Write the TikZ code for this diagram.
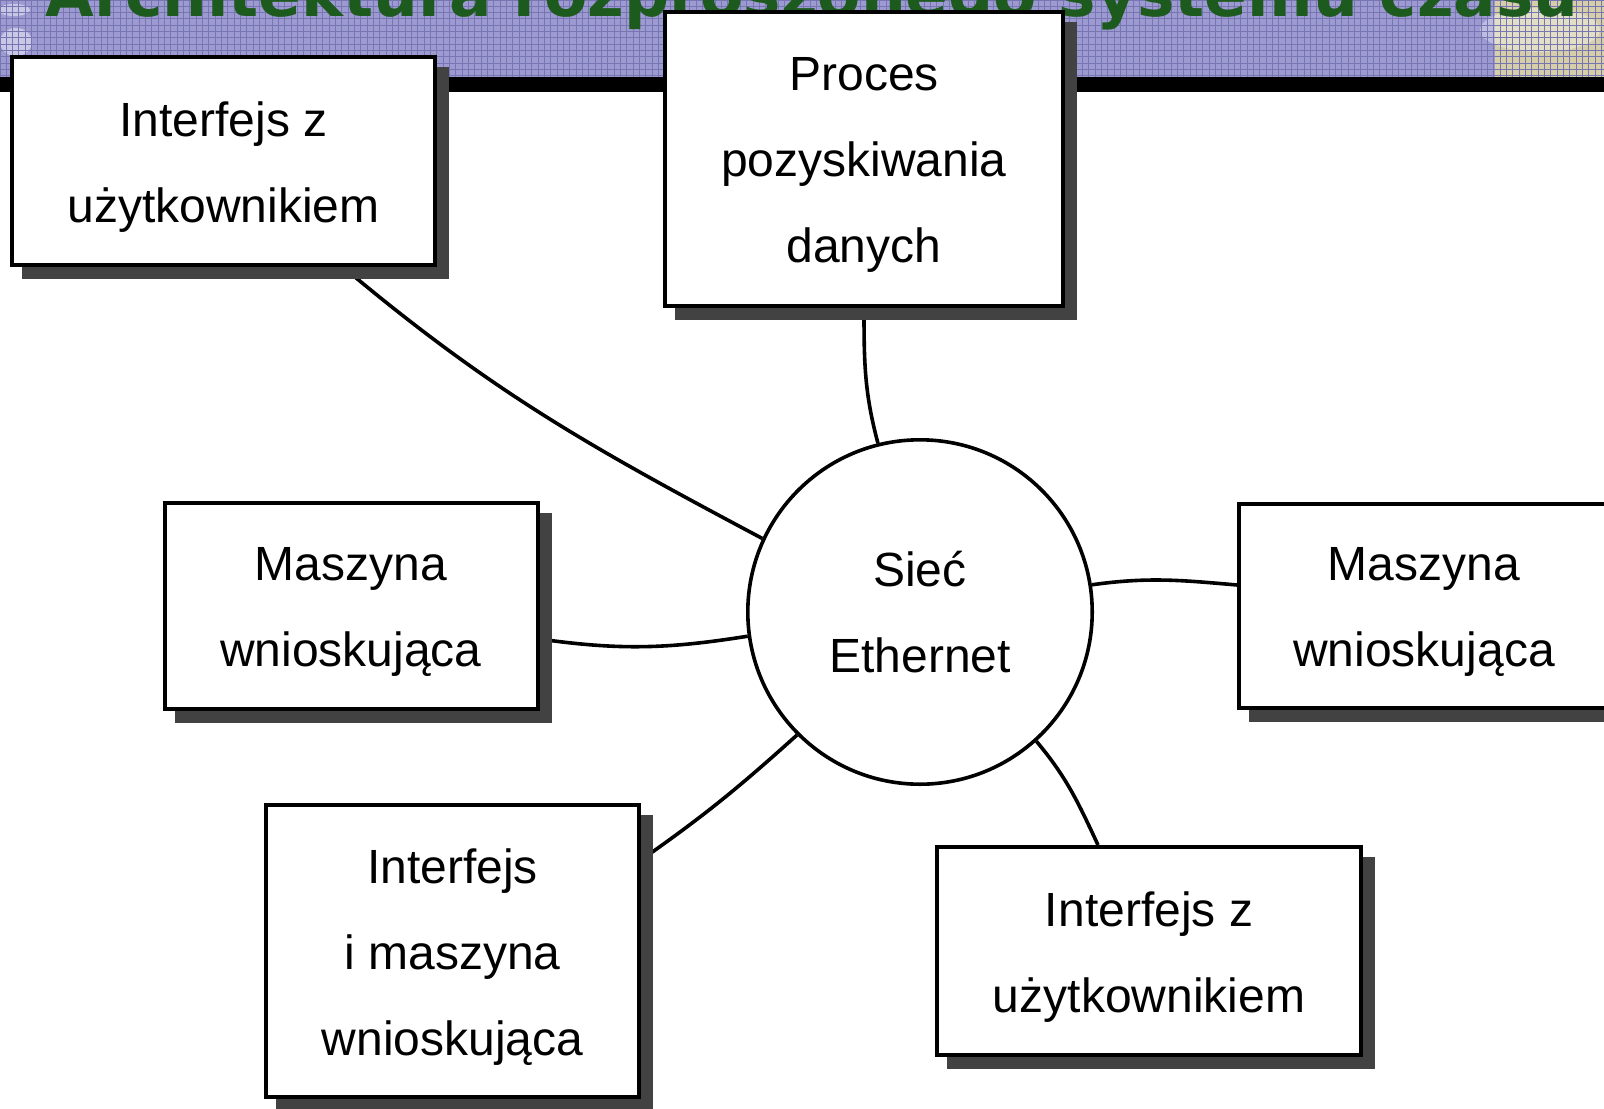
\documentclass[tikz,border=0pt]{standalone}
\usepackage{fontspec}
\usepackage{graphicx}
\setmainfont{Liberation Sans}
\newfontfamily\titlefont{DejaVu Sans}
\usetikzlibrary{backgrounds,calc}

\definecolor{bannerblue}{HTML}{9C9AD0}
\definecolor{gridline}{HTML}{7775B2}
\definecolor{cornerbeige}{HTML}{D5CEA9}
\definecolor{titlegreen}{HTML}{1D5A1D}
\definecolor{shadowgray}{HTML}{424242}

\tikzset{
  boxnode/.style={draw=black, line width=2pt, fill=white, inner sep=0pt,
    preaction={fill=shadowgray, draw=shadowgray, line width=2pt,
      transform canvas={xshift=6pt, yshift=-6pt}}},
  boxtext/.style={inner sep=0pt, align=center,
    font=\fontsize{24pt}{43pt}\selectfont},
  netnode/.style={circle, draw=black, line width=1.8pt, fill=white,
    inner sep=0pt, minimum size=172.2pt, align=center,
    font=\fontsize{24pt}{43pt}\selectfont},
  link/.style={draw=black, line width=1.8pt},
  gridrule/.style={draw=gridline, line width=0.5pt}
}

\begin{document}
\begin{tikzpicture}[x=0.5pt, y=-0.5pt]
  \useasboundingbox (0,0) rectangle (1604,1108);

  % boxes of the network
  \node[boxnode, minimum width=211.5pt, minimum height=104pt] (b1) at (223.5,161) {};
  \node[boxnode, minimum width=199pt, minimum height=147pt] (b2) at (864,159) {};
  \node[boxnode, minimum width=186.5pt, minimum height=103pt] (b3) at (351,606) {};
  \node[boxnode, minimum width=185pt, minimum height=102pt] (b4) at (1424,606) {};
  \node[boxnode, minimum width=186.5pt, minimum height=146pt] (b5) at (452.5,951) {};
  \node[boxnode, minimum width=212pt, minimum height=104pt] (b6) at (1149,951) {};
  \node[netnode] (net) at (920,612) {Sieć\\Ethernet};

  % box labels
  \node[boxtext] (t1) at ([yshift=-3pt]b1.center) {Interfejs z\\użytkownikiem};
  \node[boxtext] (t2) at ([yshift=-3pt]b2.center) {Proces\\pozyskiwania\\danych};
  \node[boxtext] (t3) at ([yshift=-3pt]b3.center) {Maszyna\\wnioskująca};
  \node[boxtext] (t4) at ([yshift=-3pt]b4.center) {Maszyna\\wnioskująca};
  \node[boxtext] (t5) at ([yshift=-3pt]b5.center) {Interfejs\\i maszyna\\wnioskująca};
  \node[boxtext] (t6) at ([yshift=-3pt]b6.center) {Interfejs z\\użytkownikiem};

  \begin{pgfonlayer}{background}
    % header band
    \fill[bannerblue] (0,0) rectangle (1604,77);
    \fill[cornerbeige] (1495,0) rectangle (1604,77);
    \fill[white, opacity=0.35] (1540,30) ellipse [x radius=60, y radius=22];
    \fill[white, opacity=0.45] (14,10) ellipse [x radius=16, y radius=6];
    \fill[white, opacity=0.45] (16,42) ellipse [x radius=16, y radius=14];
    \foreach \i in {0,...,254}
      \draw[gridrule] (\i*6.33,0) -- (\i*6.33,77);
    \foreach \j in {0,...,12}
      \draw[gridrule] (0,\j*6.33) -- (1604,\j*6.33);
    \fill[black] (0,77) rectangle (1604,92);
    \node[anchor=base west, inner sep=0pt, text=titlegreen] (title) at (45,16)
      {\resizebox{766.5pt}{!}{\titlefont\bfseries Architektura rozproszonego systemu czasu}};

    % connectors to the network
    \draw[link] ([xshift=59.75pt]b1.south) to[out=-40, in=152] (net.155);
    \draw[link] (b2.south) to[out=-90, in=105] (net.104);
    \draw[link] ([yshift=-16.5pt]b3.east) to[out=-8, in=-171] (net.188);
    \draw[link] (net.9) to[out=8, in=175] ([yshift=10.5pt]b4.west);
    \draw[link] ([yshift=45.5pt]b5.east) to[out=35, in=-138] (net.225);
    \draw[link] (net.-48) to[out=-50, in=115] ([xshift=-25.5pt]b6.north);
  \end{pgfonlayer}
\end{tikzpicture}
\end{document}
